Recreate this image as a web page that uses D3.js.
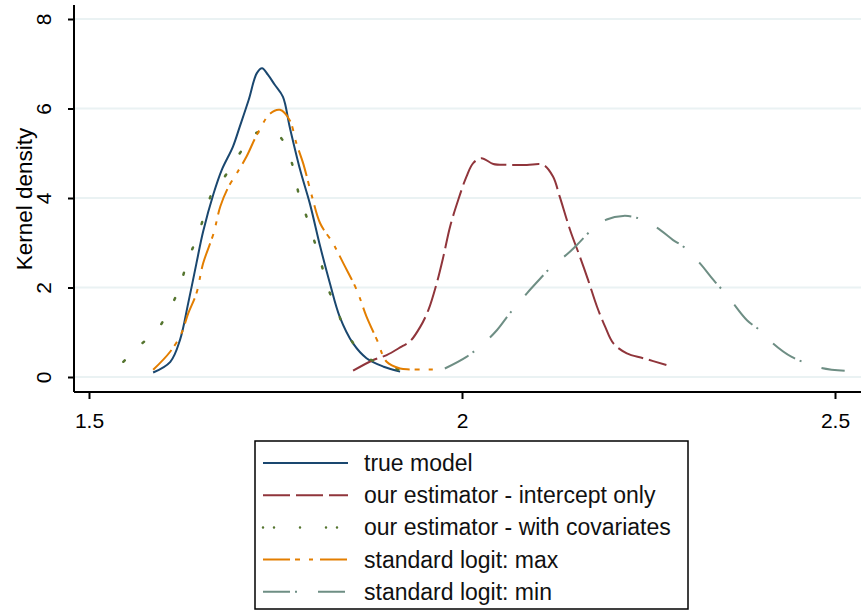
<!DOCTYPE html>
<html>
<head>
<meta charset="utf-8">
<script src="https://cdn.jsdelivr.net/npm/d3@7"></script>
<style>
  html, body { margin: 0; padding: 0; background: #fff; }
  svg { display: block; font-family: Arial, "Liberation Sans", sans-serif; }
</style>
</head>
<body>
<div id="diagram"></div>
<script>
// kernel density curves: [x, density]
const trueModel = [
  [1.586, 0.10], [1.609, 0.34], [1.622, 0.83], [1.633, 1.65], [1.644, 2.54], [1.653, 3.25],
  [1.667, 4.10], [1.678, 4.63], [1.693, 5.15], [1.702, 5.59], [1.714, 6.19], [1.725, 6.79],
  [1.732, 6.90], [1.740, 6.75], [1.749, 6.53], [1.760, 6.26], [1.769, 5.59], [1.783, 4.63],
  [1.796, 3.88], [1.810, 2.91], [1.823, 2.09], [1.836, 1.35], [1.854, 0.75], [1.872, 0.42],
  [1.895, 0.23], [1.917, 0.12]
];
const interceptOnly = [
  [1.854, 0.14], [1.881, 0.38], [1.899, 0.49], [1.919, 0.68], [1.930, 0.79], [1.944, 1.12],
  [1.955, 1.50], [1.966, 2.09], [1.975, 2.69], [1.984, 3.36], [1.995, 3.96], [2.006, 4.48],
  [2.015, 4.78], [2.026, 4.89], [2.042, 4.76], [2.060, 4.74], [2.087, 4.74], [2.109, 4.74],
  [2.122, 4.48], [2.131, 4.03], [2.145, 3.28], [2.158, 2.69], [2.169, 2.17], [2.181, 1.57],
  [2.192, 1.12], [2.203, 0.75], [2.221, 0.53], [2.243, 0.42], [2.274, 0.27]
];
const withCovariates = [
  [1.546, 0.34], [1.562, 0.60], [1.571, 0.75], [1.588, 0.98], [1.600, 1.27], [1.620, 1.94],
  [1.631, 2.54], [1.638, 2.84], [1.647, 3.21], [1.658, 3.81], [1.667, 4.18], [1.682, 4.48],
  [1.693, 4.78], [1.705, 5.07], [1.716, 5.37], [1.729, 5.48], [1.740, 5.48], [1.749, 5.44],
  [1.758, 5.33], [1.765, 5.07], [1.772, 4.78], [1.778, 4.33], [1.783, 3.96], [1.790, 3.66],
  [1.803, 2.99], [1.810, 2.61], [1.823, 1.87], [1.832, 1.57], [1.841, 1.12], [1.868, 0.49],
  [1.895, 0.27], [1.917, 0.16], [1.935, 0.12]
];
const logitMax = [
  [1.586, 0.16], [1.609, 0.57], [1.624, 0.98], [1.633, 1.42], [1.644, 1.87], [1.653, 2.54],
  [1.667, 3.21], [1.676, 3.81], [1.687, 4.25], [1.698, 4.55], [1.711, 4.92], [1.725, 5.41],
  [1.743, 5.89], [1.756, 5.97], [1.769, 5.74], [1.778, 5.22], [1.787, 4.78], [1.799, 4.03],
  [1.810, 3.43], [1.827, 2.99], [1.841, 2.54], [1.859, 1.94], [1.872, 1.35], [1.886, 0.83],
  [1.899, 0.34], [1.917, 0.19], [1.930, 0.17], [1.964, 0.17]
];
const logitMin = [
  [1.977, 0.19], [2.006, 0.45], [2.029, 0.75], [2.047, 1.05], [2.064, 1.42], [2.087, 1.87],
  [2.105, 2.20], [2.122, 2.50], [2.140, 2.73], [2.154, 2.95], [2.176, 3.32], [2.194, 3.52],
  [2.216, 3.60], [2.234, 3.56], [2.261, 3.34], [2.283, 3.06], [2.297, 2.91], [2.319, 2.54],
  [2.337, 2.17], [2.357, 1.79], [2.382, 1.27], [2.402, 1.01], [2.417, 0.75], [2.442, 0.45],
  [2.480, 0.21], [2.513, 0.14]
];

const seriesNames = [
  'true model',
  'our estimator - intercept only',
  'our estimator - with covariates',
  'standard logit: max',
  'standard logit: min'
];
const xTicks = [1.5, 2, 2.5];
const yTicks = [0, 2, 4, 6, 8];

!(function () {
  let
    width = 861,
    height = 612,
    left = 74,
    bottom = 392,
    top = 5,
    right = 861,
    series = [trueModel, interceptOnly, withCovariates, logitMax, logitMin],
    colors = ['#1a476f', '#90353b', '#55752f', '#e37e00', '#6e8e84'],
    dashes = [null, '27,6', '2,25', '27,5,5,9,4,7', '27,5,2,21'],
    xScale = d3.scaleLinear()
      .domain([1.5, 2.5])
      .range([89, 835]),
    yScale = d3.scaleLinear()
      .domain([0, 8])
      .range([377, 19]);

  let svg = d3.select('#diagram')
    .append('svg')
    .attr('width', width)
    .attr('height', height)
    .attr('viewBox', '0 0 ' + width + ' ' + height);

  // gridlines
  svg.append('g')
    .selectAll('line')
    .data(yTicks)
    .enter()
    .append('line')
    .attr('x1', left)
    .attr('x2', right)
    .attr('y1', d => yScale(d))
    .attr('y2', d => yScale(d))
    .style('stroke', '#eaf2f3')
    .style('stroke-width', 2);

  // curves
  let line = d3.line()
    .x(d => xScale(d[0]))
    .y(d => yScale(d[1]))
    .curve(d3.curveCatmullRom);

  svg.append('g')
    .selectAll('path')
    .data(series)
    .enter()
    .append('path')
    .attr('d', line)
    .style('fill', 'none')
    .style('stroke', (d, i) => colors[i])
    .style('stroke-width', (d, i) => i === 2 ? 2.5 : 2)
    .style('stroke-linecap', (d, i) => i === 2 ? 'round' : 'butt')
    .style('stroke-dasharray', (d, i) => dashes[i]);

  // axes
  let xAxis = svg.append('g')
    .attr('transform', 'translate(0,' + bottom + ')')
    .call(d3.axisBottom(xScale).tickValues(xTicks).tickFormat(d3.format('')).tickSize(7).tickPadding(14));
  xAxis.select('.domain').attr('d', 'M' + left + ',0H' + right).style('stroke-width', 2);
  xAxis.selectAll('.tick line').style('stroke-width', 2);
  xAxis.selectAll('.tick text')
    .style('font-size', '21px')
    .style('fill', '#000')
    .attr('font-family', null);

  let yAxis = svg.append('g')
    .attr('transform', 'translate(' + left + ',0)')
    .call(d3.axisLeft(yScale).tickValues(yTicks).tickSize(6));
  yAxis.select('.domain').attr('d', 'M0,' + top + 'V' + bottom).style('stroke-width', 2);
  yAxis.selectAll('.tick line').style('stroke-width', 2);
  yAxis.selectAll('.tick text')
    .attr('x', null)
    .attr('dy', null)
    .attr('transform', 'translate(-23,0) rotate(-90)')
    .style('text-anchor', 'middle')
    .style('font-size', '21px')
    .style('fill', '#000')
    .attr('font-family', null);

  svg.append('text')
    .attr('transform', 'translate(32,' + 199 + ') rotate(-90)')
    .style('text-anchor', 'middle')
    .style('font-size', '22.5px')
    .text('Kernel density');

  // legend
  let legend = svg.append('g');
  legend.append('rect')
    .attr('x', 255)
    .attr('y', 441)
    .attr('width', 433)
    .attr('height', 168)
    .style('fill', '#fff')
    .style('stroke', '#000')
    .style('stroke-width', 1.5);

  let rows = legend.selectAll('g.row')
    .data(seriesNames)
    .enter()
    .append('g')
    .attr('class', 'row')
    .attr('transform', (d, i) => 'translate(0,' + (463 + i * 32.2) + ')');

  rows.append('line')
    .attr('x1', 263)
    .attr('x2', 348)
    .style('stroke', (d, i) => colors[i])
    .style('stroke-width', (d, i) => i === 2 ? 2.5 : 2)
    .style('stroke-linecap', (d, i) => i === 2 ? 'round' : 'butt')
    .style('stroke-dasharray', (d, i) => i === 2 ? '0,11,0,26,0,26' : dashes[i]);

  rows.append('text')
    .attr('x', 364)
    .attr('y', 8)
    .style('font-size', '23px')
    .style('fill', '#111')
    .text(d => d);
}());
</script>
</body>
</html>
